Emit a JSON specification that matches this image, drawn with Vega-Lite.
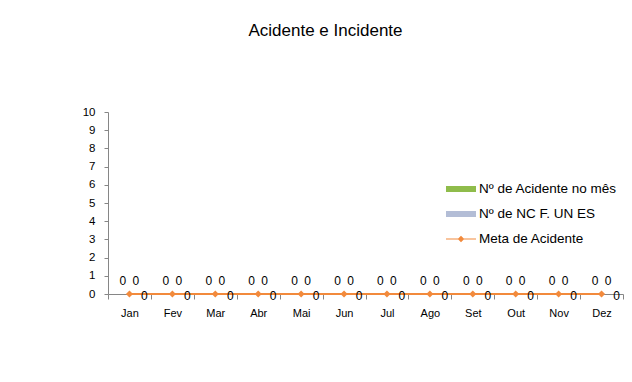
{
  "$schema": "https://vega.github.io/schema/vega-lite/v6.json",
  "width": 515,
  "height": 182,
  "autosize": {"type": "none"},
  "padding": {"left": 108, "top": 112, "right": 9, "bottom": 88},
  "background": "white",
  "title": {"text": "Acidente e Incidente", "anchor": "middle", "dx": -40, "offset": 66, "font": "Liberation Sans", "fontSize": 17, "fontWeight": "normal", "color": "#000000"},
  "config": {"view": {"stroke": null}},
  "data": {"values": [
    {"mes": "Jan", "serie": "Nº de Acidente no mês", "valor": 0},
    {"mes": "Jan", "serie": "Nº de NC F. UN ES", "valor": 0},
    {"mes": "Jan", "serie": "Meta de Acidente", "valor": 0},
    {"mes": "Fev", "serie": "Nº de Acidente no mês", "valor": 0},
    {"mes": "Fev", "serie": "Nº de NC F. UN ES", "valor": 0},
    {"mes": "Fev", "serie": "Meta de Acidente", "valor": 0},
    {"mes": "Mar", "serie": "Nº de Acidente no mês", "valor": 0},
    {"mes": "Mar", "serie": "Nº de NC F. UN ES", "valor": 0},
    {"mes": "Mar", "serie": "Meta de Acidente", "valor": 0},
    {"mes": "Abr", "serie": "Nº de Acidente no mês", "valor": 0},
    {"mes": "Abr", "serie": "Nº de NC F. UN ES", "valor": 0},
    {"mes": "Abr", "serie": "Meta de Acidente", "valor": 0},
    {"mes": "Mai", "serie": "Nº de Acidente no mês", "valor": 0},
    {"mes": "Mai", "serie": "Nº de NC F. UN ES", "valor": 0},
    {"mes": "Mai", "serie": "Meta de Acidente", "valor": 0},
    {"mes": "Jun", "serie": "Nº de Acidente no mês", "valor": 0},
    {"mes": "Jun", "serie": "Nº de NC F. UN ES", "valor": 0},
    {"mes": "Jun", "serie": "Meta de Acidente", "valor": 0},
    {"mes": "Jul", "serie": "Nº de Acidente no mês", "valor": 0},
    {"mes": "Jul", "serie": "Nº de NC F. UN ES", "valor": 0},
    {"mes": "Jul", "serie": "Meta de Acidente", "valor": 0},
    {"mes": "Ago", "serie": "Nº de Acidente no mês", "valor": 0},
    {"mes": "Ago", "serie": "Nº de NC F. UN ES", "valor": 0},
    {"mes": "Ago", "serie": "Meta de Acidente", "valor": 0},
    {"mes": "Set", "serie": "Nº de Acidente no mês", "valor": 0},
    {"mes": "Set", "serie": "Nº de NC F. UN ES", "valor": 0},
    {"mes": "Set", "serie": "Meta de Acidente", "valor": 0},
    {"mes": "Out", "serie": "Nº de Acidente no mês", "valor": 0},
    {"mes": "Out", "serie": "Nº de NC F. UN ES", "valor": 0},
    {"mes": "Out", "serie": "Meta de Acidente", "valor": 0},
    {"mes": "Nov", "serie": "Nº de Acidente no mês", "valor": 0},
    {"mes": "Nov", "serie": "Nº de NC F. UN ES", "valor": 0},
    {"mes": "Nov", "serie": "Meta de Acidente", "valor": 0},
    {"mes": "Dez", "serie": "Nº de Acidente no mês", "valor": 0},
    {"mes": "Dez", "serie": "Nº de NC F. UN ES", "valor": 0},
    {"mes": "Dez", "serie": "Meta de Acidente", "valor": 0}
  ]},
  "encoding": {
    "x": {
      "field": "mes", "type": "nominal",
      "sort": ["Jan", "Fev", "Mar", "Abr", "Mai", "Jun", "Jul", "Ago", "Set", "Out", "Nov", "Dez"],
      "scale": {"paddingInner": 0, "paddingOuter": 0},
      "axis": {"title": null, "labelAngle": 0, "tickBand": "extent", "tickSize": 5, "labelPadding": 8, "domainColor": "#868686", "tickColor": "#868686", "labelFont": "Liberation Sans", "labelFontSize": 11, "labelColor": "#000000"}
    },
    "y": {
      "field": "valor", "type": "quantitative",
      "scale": {"domain": [0, 10]},
      "axis": {"title": null, "values": [0, 1, 2, 3, 4, 5, 6, 7, 8, 9, 10], "grid": false, "tickSize": 4, "labelPadding": 9, "domainColor": "#868686", "tickColor": "#868686", "labelFont": "Liberation Sans", "labelFontSize": 11.5, "labelColor": "#000000"}
    }
  },
  "layer": [
    {
      "transform": [{"filter": "datum.serie !== 'Meta de Acidente'"}],
      "mark": {"type": "bar"},
      "encoding": {
        "xOffset": {"field": "serie", "type": "nominal", "sort": ["Nº de Acidente no mês", "Nº de NC F. UN ES"], "scale": {"paddingOuter": 0.65, "paddingInner": 0}},
        "color": {
          "field": "serie", "type": "nominal",
          "scale": {"domain": ["Nº de Acidente no mês", "Nº de NC F. UN ES", "Meta de Acidente"], "range": ["#8fbc4b", "#b3bdd6", "#f28a3c"]},
          "legend": {
            "title": null, "orient": "none", "legendX": 343, "legendY": 67,
            "symbolSize": 400, "rowPadding": 8, "labelOffset": 8,
            "labelFont": "Liberation Sans", "labelFontSize": 13.5, "labelColor": "#000000",
            "encode": {"symbols": {"update": {
              "shape": {"signal": "datum.value === 'Meta de Acidente' ? 'M-1.5,-0.06H1.5V0.06H-1.5Z M-0.33,0L0,-0.33L0.33,0L0,0.33Z' : 'M-1.5,-0.3H1.5V0.3H-1.5Z'"},
              "fill": {"scale": "color", "field": "value"},
              "strokeWidth": {"value": 0},
              "opacity": {"value": 1},
              "fillOpacity": {"value": 1}
            }}}
          }
        }
      }
    },
    {
      "transform": [{"filter": "datum.serie !== 'Meta de Acidente'"}],
      "mark": {"type": "text", "dy": -13, "font": "Liberation Sans", "fontSize": 12, "color": "#000000"},
      "encoding": {
        "xOffset": {"field": "serie", "type": "nominal", "sort": ["Nº de Acidente no mês", "Nº de NC F. UN ES"]},
        "text": {"field": "valor", "type": "quantitative"}
      }
    },
    {
      "transform": [{"filter": "datum.serie === 'Meta de Acidente'"}],
      "mark": {"type": "line", "strokeWidth": 2, "point": {"shape": "diamond", "size": 50, "filled": true}},
      "encoding": {
        "color": {"field": "serie", "type": "nominal"}
      }
    },
    {
      "transform": [{"filter": "datum.serie === 'Meta de Acidente'"}],
      "mark": {"type": "text", "dx": 15, "dy": 2, "font": "Liberation Sans", "fontSize": 12, "color": "#000000"},
      "encoding": {
        "text": {"field": "valor", "type": "quantitative"}
      }
    }
  ]
}
